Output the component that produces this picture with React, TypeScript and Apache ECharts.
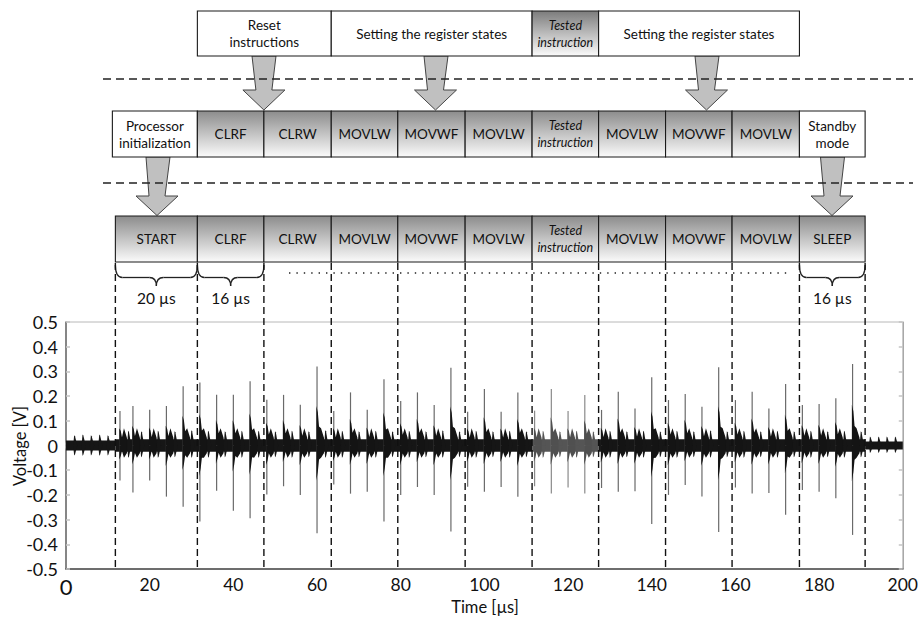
import React, { useEffect, useRef } from 'react';
import * as echarts from 'echarts';

const FONT = "Lato, 'Open Sans', 'DejaVu Sans', sans-serif";

// Instruction boundaries on the time axis [µs]
const bounds = [11.8, 31.4, 47.3, 63.4, 79.3, 95.4, 111.4, 127.3, 143.3, 159.2, 175.3, 191.0];
const row3Labels = ['START', 'CLRF', 'CLRW', 'MOVLW', 'MOVWF', 'MOVLW', 'Tested\ninstruction', 'MOVLW', 'MOVWF', 'MOVLW', 'SLEEP'];
const row2Labels = ['Processor\ninitialization', 'CLRF', 'CLRW', 'MOVLW', 'MOVWF', 'MOVLW', 'Tested\ninstruction', 'MOVLW', 'MOVWF', 'MOVLW', 'Standby\nmode'];
const row1Labels = ['Reset\ninstructions', 'Setting the register states', 'Tested\ninstruction', 'Setting the register states'];
const row1From = [1, 3, 6, 7];
const row1To = [3, 6, 7, 10];
const braceBoxes = [0, 1, 10];
const braceLabels = ['20 µs', '16 µs', '16 µs'];

// Large spikes: time [µs], positive peak [V], negative peak [V]
const spikeTimes = [12.9, 16, 20, 24, 28, 32, 36, 40, 44, 48, 52, 56, 60, 64, 68, 72, 76, 80, 84, 88, 92, 96, 100, 104, 108, 112, 116, 120, 124, 128, 132, 136, 140, 144, 148, 152, 156, 160, 164, 168, 172, 176, 180, 184, 188];
const spikePos = [0.14, 0.16, 0.145, 0.16, 0.24, 0.255, 0.205, 0.205, 0.26, 0.185, 0.205, 0.165, 0.32, 0.14, 0.215, 0.145, 0.268, 0.18, 0.215, 0.164, 0.315, 0.137, 0.229, 0.137, 0.215, 0.141, 0.229, 0.14, 0.204, 0.144, 0.218, 0.15, 0.276, 0.184, 0.208, 0.157, 0.317, 0.184, 0.218, 0.15, 0.249, 0.164, 0.168, 0.191, 0.33];
const spikeNeg = [-0.142, -0.19, -0.142, -0.207, -0.248, -0.308, -0.183, -0.264, -0.295, -0.198, -0.165, -0.2, -0.355, -0.158, -0.195, -0.187, -0.308, -0.2, -0.168, -0.2, -0.348, -0.167, -0.187, -0.168, -0.207, -0.165, -0.194, -0.17, -0.194, -0.172, -0.187, -0.185, -0.318, -0.2, -0.16, -0.206, -0.35, -0.17, -0.194, -0.192, -0.28, -0.18, -0.187, -0.214, -0.362];

// Small pulses
const minorTimes = [2, 4, 6, 8, 10, 14.9, 18, 22, 26, 30, 34, 38, 42, 46, 50, 54, 58, 62, 66, 70, 74, 78, 82, 86, 90, 94, 98, 102, 106, 110, 114, 118, 122, 126, 130, 134, 138, 142, 146, 150, 154, 158, 162, 166, 170, 174, 178, 182, 186, 190, 192.2, 194.2, 196.2, 198.2];
const minorPos = [0.042, 0.045, 0.042, 0.045, 0.042, 0.06, 0.058, 0.06, 0.058, 0.062, 0.06, 0.058, 0.06, 0.06, 0.058, 0.06, 0.058, 0.062, 0.06, 0.058, 0.06, 0.058, 0.06, 0.058, 0.062, 0.058, 0.06, 0.058, 0.06, 0.058, 0.06, 0.058, 0.06, 0.058, 0.06, 0.058, 0.06, 0.058, 0.06, 0.058, 0.062, 0.058, 0.06, 0.058, 0.06, 0.058, 0.06, 0.058, 0.06, 0.058, 0.036, 0.036, 0.036, 0.036];
const minorNeg = [-0.04, -0.042, -0.04, -0.042, -0.04, -0.05, -0.048, -0.05, -0.048, -0.05, -0.05, -0.048, -0.05, -0.05, -0.048, -0.05, -0.048, -0.05, -0.05, -0.048, -0.05, -0.048, -0.05, -0.048, -0.05, -0.048, -0.05, -0.048, -0.05, -0.048, -0.05, -0.048, -0.05, -0.048, -0.05, -0.048, -0.05, -0.048, -0.05, -0.048, -0.05, -0.048, -0.05, -0.048, -0.05, -0.048, -0.05, -0.048, -0.05, -0.048, -0.03, -0.03, -0.03, -0.03];

// Background noise band: start, end, half-width [V]
const bandStart = [0, 11.8, 111.4, 127.3, 191.0];
const bandEnd = [11.8, 111.4, 127.3, 191.0, 200];
const bandHalf = [0.02, 0.025, 0.025, 0.025, 0.016];

const testedFrom = 111.4;
const testedTo = 127.3;

export default function App() {
  const ref = useRef<HTMLDivElement>(null);
  useEffect(() => {
    const chart = echarts.init(ref.current!, null, { renderer: 'svg' });
    const isTested = (t: number) => t > testedFrom && t < testedTo;

    const spikeData = spikeTimes.map((t, i) => [t, spikePos[i], spikeNeg[i]]);
    const minorData = minorTimes.map((t, i) => [t, minorPos[i], minorNeg[i]]);
    const bandData = bandStart.map((s, i) => [s, bandEnd[i], bandHalf[i]]);

    const option: any = {
      animation: false,
      backgroundColor: '#ffffff',
      grid: { left: 66, right: 17, top: 322, bottom: 50, show: true, borderColor: '#b8b8b8', borderWidth: 1 },
      xAxis: [
        {
          type: 'value', min: 0, max: 200, interval: 20,
          axisLine: { show: true, onZero: false, lineStyle: { color: '#4a4a4a', width: 1.5 } },
          axisTick: { show: false }, splitLine: { show: false },
          axisLabel: {
            fontSize: 17.5, color: '#111', fontFamily: FONT, margin: 6,
            formatter: (v: number) => (v === 0 ? '{z|0}' : String(v)),
            rich: { z: { fontSize: 22, fontFamily: FONT, color: '#111' } },
          },
        },
        {
          type: 'value', min: 0, max: 200, interval: 50, position: 'bottom',
          axisLine: { show: false }, axisTick: { show: true, inside: true, length: 3, lineStyle: { color: '#aaa', width: 1.5 } },
          axisLabel: { show: false }, splitLine: { show: false },
        },
        {
          type: 'value', min: 0, max: 200, interval: 50, position: 'top',
          axisLine: { show: false }, axisTick: { show: true, inside: true, length: 3, lineStyle: { color: '#aaa', width: 1.5 } },
          axisLabel: { show: false }, splitLine: { show: false },
        },
      ],
      yAxis: [
        {
          type: 'value', min: -0.5, max: 0.5, interval: 0.1,
          axisLine: { show: true, onZero: false, lineStyle: { color: '#6a6a6a', width: 1.5 } },
          axisTick: { show: true, inside: true, length: 4, lineStyle: { color: '#c4c4c4', width: 1.5 } },
          axisLabel: { fontSize: 18, color: '#111', fontFamily: FONT, margin: 8, formatter: (v: number) => String(+v.toFixed(1)) },
          splitLine: { show: false },
        },
        {
          type: 'value', min: -0.5, max: 0.5, interval: 0.1, position: 'right',
          axisLine: { show: true, onZero: false, lineStyle: { color: '#a8a8a8', width: 1 } },
          axisTick: { show: true, inside: true, length: 4, lineStyle: { color: '#c4c4c4', width: 1.5 } },
          axisLabel: { show: false }, splitLine: { show: false },
        },
      ],
      series: [
        {
          type: 'custom', name: 'noise', xAxisIndex: 0, yAxisIndex: 0, clip: true,
          encode: { x: [0, 1], y: 2 },
          data: bandData,
          renderItem: (_p: any, api: any) => {
            const s = api.value(0), e = api.value(1), h = api.value(2);
            const a = api.coord([s, h]);
            const b = api.coord([e, -h]);
            const grey = s >= testedFrom - 0.01 && e <= testedTo + 0.01;
            return { type: 'rect', shape: { x: a[0], y: a[1], width: b[0] - a[0], height: b[1] - a[1] }, style: { fill: grey ? '#555555' : '#161616' } };
          },
        },
        {
          type: 'custom', name: 'minor', xAxisIndex: 0, yAxisIndex: 0, clip: true,
          encode: { x: 0, y: [1, 2] },
          data: minorData,
          renderItem: (_p: any, api: any) => {
            const t = api.value(0), p = api.value(1), n = api.value(2);
            const c0 = api.coord([t, 0]);
            const x = c0[0], y0 = c0[1];
            const yp = api.coord([t, p])[1];
            const yn = api.coord([t, n])[1];
            const fill = isTested(t) ? '#555555' : '#161616';
            return {
              type: 'group', children: [
                { type: 'polygon', shape: { points: [[x - 1.2, y0], [x - 0.2, yp], [x + 0.6, yp + 1], [x + 3, y0]] }, style: { fill } },
                { type: 'polygon', shape: { points: [[x - 1.2, y0], [x - 0.2, yn], [x + 0.6, yn - 1], [x + 3, y0]] }, style: { fill } },
              ],
            };
          },
        },
        {
          type: 'custom', name: 'spikes', xAxisIndex: 0, yAxisIndex: 0, clip: true,
          encode: { x: 0, y: [1, 2] },
          data: spikeData,
          renderItem: (_p: any, api: any) => {
            const t = api.value(0), p = api.value(1), n = api.value(2);
            const c0 = api.coord([t, 0]);
            const x = c0[0], y0 = c0[1];
            const yv = (v: number) => api.coord([t, v])[1];
            const tested = isTested(t);
            const dark = tested ? '#505050' : '#141414';
            const thin = tested ? '#8a8a8a' : '#6a6a6a';
            return {
              type: 'group', children: [
                { type: 'line', shape: { x1: x, y1: yv(n), x2: x, y2: yv(p) }, style: { stroke: thin, lineWidth: 1.2 } },
                {
                  type: 'polygon',
                  shape: { points: [[x - 0.7, y0], [x - 0.7, yv(p * 0.5)], [x + 0.8, yv(p * 0.42)], [x + 2, yv(p * 0.24)], [x + 4, yv(0.07)], [x + 7, yv(0.03)], [x + 7, y0]] },
                  style: { fill: dark },
                },
                {
                  type: 'polygon',
                  shape: { points: [[x - 0.7, y0], [x - 0.7, yv(n * 0.4)], [x + 0.8, yv(n * 0.3)], [x + 2, yv(n * 0.16)], [x + 4, yv(-0.05)], [x + 7, yv(-0.03)], [x + 7, y0]] },
                  style: { fill: dark },
                },
              ],
            };
          },
        },
      ],
    };
    chart.setOption(option);

    const px = (t: number) => chart.convertToPixel({ xAxisIndex: 0 }, t) as unknown as number;
    const plotBottom = chart.convertToPixel({ yAxisIndex: 0 }, -0.5) as unknown as number;
    const bx = bounds.map(px);

    const g: any[] = [];
    const grad = (top: string) =>
      new echarts.graphic.LinearGradient(0, 0, 0, 1, [
        { offset: 0, color: top },
        { offset: 1, color: '#fbfbfb' },
      ]);
    const box = (x0: number, x1: number, y: number, h: number, label: string, filled: boolean, top = '#8c8c8c') => {
      const italic = label.indexOf('Tested') === 0;
      g.push({
        type: 'rect', z: 5,
        shape: { x: x0, y, width: x1 - x0, height: h },
        style: { fill: filled ? grad(top) : '#ffffff', stroke: '#1a1a1a', lineWidth: 1.1 },
      });
      g.push({
        type: 'text', z: 6, x: (x0 + x1) / 2, y: y + h / 2,
        style: {
          text: label, align: 'center', verticalAlign: 'middle', fontSize: italic ? 12.5 : 13.5,
          fontFamily: FONT, fontStyle: italic ? 'italic' : 'normal', fill: '#111', lineHeight: 17,
        },
      });
    };

    // Row 1
    row1Labels.forEach((lab, i) => {
      box(bx[row1From[i]], bx[row1To[i]], 11, 45, lab, lab.indexOf('Tested') === 0, '#7c7c7c');
    });
    // Row 2
    row2Labels.forEach((lab, i) => {
      const plain = i === 0 || i === row2Labels.length - 1;
      box(i === 0 ? bx[0] - 3 : bx[i], bx[i + 1], 111, 46, lab, !plain);
    });
    // Row 3
    row3Labels.forEach((lab, i) => {
      box(bx[i], bx[i + 1], 216, 46, lab, true);
    });

    // Arrows
    const arrow = (cx: number, tipX: number, yTop: number, yHead: number, yTip: number) => {
      g.push({
        type: 'polygon', z: 4,
        shape: {
          points: [
            [cx - 12, yTop], [cx + 12, yTop], [tipX + 8, yHead], [tipX + 21, yHead],
            [tipX, yTip], [tipX - 21, yHead], [tipX - 8, yHead],
          ],
        },
        style: { fill: '#c0c0c0', stroke: '#444', lineWidth: 1 },
      });
    };
    arrow(264, bx[2], 56, 90, 110);
    arrow(436, 435.5, 56, 90, 110);
    arrow(707, 706.5, 56, 90, 110);
    arrow(158, 157, 157, 196, 215.5);
    arrow(832.5, 832, 157, 196, 215.5);

    // Horizontal dashed separators
    [79, 183].forEach((y) => {
      g.push({
        type: 'line', z: 7,
        shape: { x1: 103, y1: y, x2: 913, y2: y },
        style: { stroke: '#222', lineWidth: 1.3, lineDash: [8, 5] },
      });
    });

    // Vertical dashed boundary lines
    bx.forEach((x) => {
      g.push({
        type: 'line', z: 10,
        shape: { x1: x, y1: 263, x2: x, y2: plotBottom },
        style: { stroke: '#111', lineWidth: 1.4, lineDash: [7, 4] },
      });
    });

    // Dotted line under the intermediate instructions
    g.push({
      type: 'line', z: 7,
      shape: { x1: 289, y1: 273, x2: 792, y2: 273 },
      style: { stroke: '#222', lineWidth: 1.6, lineDash: [1.4, 6] },
    });

    // Braces with durations
    const yT = 265, yM = 277.5, yP = 286;
    braceBoxes.forEach((bi, k) => {
      const x0 = bx[bi], x1 = bx[bi + 1], xm = (x0 + x1) / 2;
      const st = { stroke: '#222', lineWidth: 1.3, fill: 'none' };
      g.push({ type: 'bezierCurve', z: 8, shape: { x1: x0, y1: yT, x2: x0 + 7, y2: yM, cpx1: x0, cpy1: yM }, style: st });
      g.push({ type: 'line', z: 8, shape: { x1: x0 + 7, y1: yM, x2: xm - 7, y2: yM }, style: st });
      g.push({ type: 'bezierCurve', z: 8, shape: { x1: xm - 7, y1: yM, x2: xm, y2: yP, cpx1: xm, cpy1: yM }, style: st });
      g.push({ type: 'bezierCurve', z: 8, shape: { x1: xm, y1: yP, x2: xm + 7, y2: yM, cpx1: xm, cpy1: yM }, style: st });
      g.push({ type: 'line', z: 8, shape: { x1: xm + 7, y1: yM, x2: x1 - 7, y2: yM }, style: st });
      g.push({ type: 'bezierCurve', z: 8, shape: { x1: x1 - 7, y1: yM, x2: x1, y2: yT, cpx1: x1, cpy1: yM }, style: st });
      g.push({
        type: 'text', z: 8, x: xm, y: 298,
        style: { text: braceLabels[k], align: 'center', verticalAlign: 'middle', fontSize: 15.5, fontFamily: FONT, fill: '#111' },
      });
    });

    // Axis titles
    g.push({
      type: 'text', z: 8, x: 20, y: 446, rotation: Math.PI / 2,
      style: { text: 'Voltage [V]', align: 'center', verticalAlign: 'middle', fontSize: 16.5, fontFamily: FONT, fill: '#111' },
    });
    g.push({
      type: 'text', z: 8, x: 485, y: 607,
      style: { text: 'Time [µs]', align: 'center', verticalAlign: 'middle', fontSize: 16.5, fontFamily: FONT, fill: '#111' },
    });

    chart.setOption({ graphic: g });
    return () => chart.dispose();
  }, []);
  return <div ref={ref} style={{ position: 'fixed', left: 0, top: 0, width: 921, height: 619, background: '#fff' }} />;
}
